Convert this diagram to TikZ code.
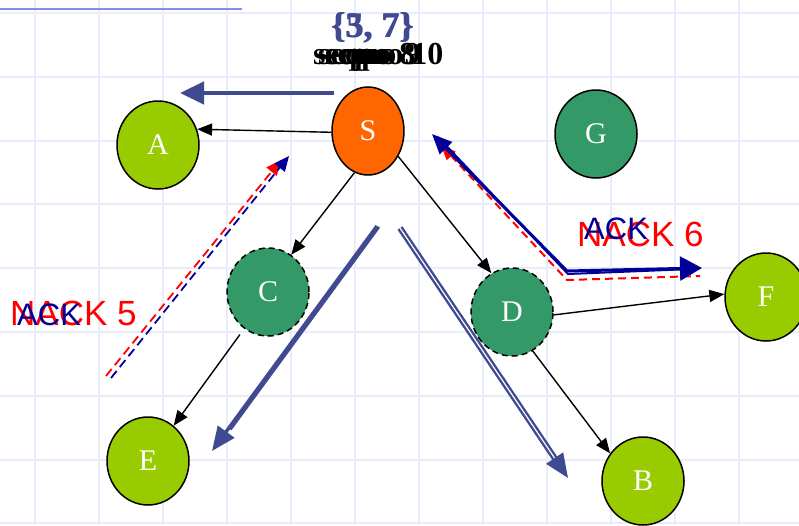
\documentclass[tikz,border=0pt]{standalone}
\usepackage{fontspec}
\setmainfont{Liberation Serif}
\newfontfamily\sansf{Liberation Sans}
\usetikzlibrary{arrows.meta,shapes.geometric,calc}
\definecolor{lgreen}{HTML}{99CC00}
\definecolor{dgreen}{HTML}{339966}
\definecolor{sorange}{HTML}{FF6600}
\definecolor{slate}{HTML}{404A90}
\definecolor{navyc}{HTML}{000099}
\definecolor{gridc}{HTML}{E9EDFB}
\definecolor{topline}{HTML}{7F8FEF}
\begin{document}
\begin{tikzpicture}[x=1pt,y=-1pt,
 host/.style={ellipse,draw=black,line width=1.5pt,minimum width=82pt,minimum height=88pt,inner sep=0pt,text=white,font=\fontsize{30}{34}\selectfont},
 lg/.style={host,fill=lgreen},
 dg/.style={host,fill=dgreen},
 dsh/.style={dash pattern=on 6pt off 4pt},
 link/.style={line width=1.4pt,-{Triangle[length=15pt,width=12pt]}},
 data/.style={draw=slate,line width=3.5pt,-{Triangle[length=24pt,width=20pt]}},
 ackdash/.style={line width=1.8pt,dash pattern=on 9pt off 5pt},
 bigtxt/.style={font=\sansf\fontsize{35}{40}\selectfont,inner sep=0pt},
 acktxt/.style={font=\sansf\fontsize{31}{36}\selectfont,inner sep=0pt,text=navyc},
 settxt/.style={font=\bfseries\fontsize{36}{40}\selectfont,inner sep=0pt,text=slate,anchor=base},
 seqtxt/.style={font=\bfseries\fontsize{32}{36}\selectfont,inner sep=0pt,anchor=base west}
]
\useasboundingbox (0,0) rectangle (799,525);
\fill[white] (0,0) rectangle (799,525);
\foreach \gx in {35,99,...,803} {\draw[gridc,line width=2pt] (\gx,0) -- (\gx,525);}
\foreach \k in {0,...,8} {\draw[gridc,line width=2pt] (0,{13+63.8*\k}) -- (799,{13+63.8*\k});}
\draw[topline,line width=2pt] (0,9) -- (242,9);

% title
\node[settxt] (set1) at (372,37) {\{3, 7\}};
\node[settxt] (set2) at (373,37) {\{5, 7\}};
\node[seqtxt] (seq1) at (313,64) {seqno 8};
\node[seqtxt] (seq2) at (318,64) {seqno 9};
\node[seqtxt] (seq3) at (325,64) {seqno 10};

% hosts
\node[lg] (A) at (158,145) {A};
\node[host,fill=sorange,minimum width=72pt,minimum height=88pt] (S) at (368,131) {S};
\node[dg] (G) at (596,134) {G};
\node[dg,dsh] (C) at (268,292) {C};
\node[dg,dsh] (D) at (512,312) {D};
\node[lg] (F) at (766,297) {F};
\node[lg] (E) at (148,461) {E};
\node[lg] (B) at (643,481) {B};

% black links
\draw[link] (S.182) -- (A.22);
\draw[link] (S.-108) -- (C.58);
\draw[link] (S.-40) -- (D.118);
\draw[link] ($(C.-123)!0.06!(E.54)$) -- (E.54);
\draw[link] (D.-4) -- (F.176);
\draw[link] (D.-62) -- (B.140);

% data flow arrows
\coordinate (t1) at (334,93);
\coordinate (t2) at (180,93);
\draw[data,line width=4.5pt,-{Triangle[length=24pt,width=22pt]}] (t1) -- (t2);
\coordinate (e1) at (377,226);
\coordinate (e2) at (212,451);
\draw[data] (e1) -- (e2);
\draw[draw=slate,line width=2.5pt] ($(e1)+(2,1)$) -- ($(e2)!0.1!(e1)+(2,1)$);
\coordinate (b1) at (400,228);
\coordinate (b2) at (568,478);
\draw[data,double=white,double distance=1.2pt,line width=2.4pt,-{Triangle[length=24pt,width=20pt]}] (b1) -- (b2);

% left ACK / NACK
\coordinate (lr1) at (106,376);
\coordinate (lr2) at (281,160);
\coordinate (lb1) at (111,378);
\coordinate (lb2) at (289,156);
\draw[red,ackdash,-{Triangle[length=15pt,width=13pt]}] (lr1) -- (lr2);
\draw[navyc,ackdash,-{Triangle[length=15pt,width=13pt]}] (lb1) -- (lb2);
\node[bigtxt,red,anchor=base west] (nack5) at (10,325) {NACK 5};
\node[acktxt,anchor=base west] (ack5) at (17,325) {ACK};

% right ACK / NACK
\coordinate (rr1) at (441,145);
\coordinate (rr2) at (567,280);
\coordinate (rr3) at (700,276);
\draw[red,line width=2pt,dash pattern=on 8pt off 5pt,{Triangle[length=15pt,width=12pt]}-] (rr1) -- (rr2) -- (rr3);
\coordinate (rb1) at (432,134);
\coordinate (rb2) at (567,271);
\coordinate (rb3) at (702,268);
\draw[navyc,line width=3pt,{Triangle[length=20pt,width=17pt]}-{Triangle[length=22pt,width=24pt]}] (rb1) -- (rb2) -- (rb3);
\draw[navyc,line width=2pt] ($(rb1)+(6,3)$) -- ($(rb2)+(1,3)$) -- ($(rb3)+(-10,1)$);
\node[bigtxt,red,anchor=base west] (nack6) at (577,246) {NACK 6};
\node[acktxt,anchor=base west] (ack6) at (584,239) {ACK};
\end{tikzpicture}
\end{document}
